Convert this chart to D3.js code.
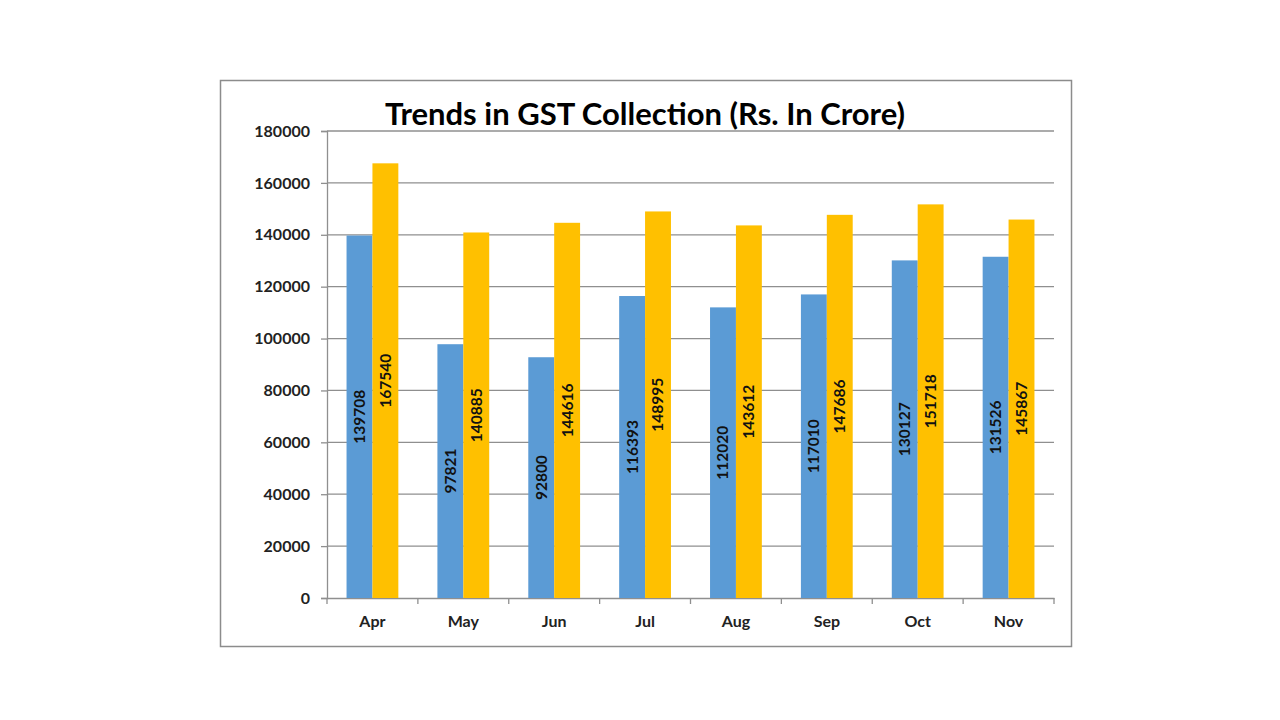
<!DOCTYPE html>
<html>
<head>
<meta charset="utf-8">
<script src="https://cdn.jsdelivr.net/npm/d3@7"></script>
<style>
  body { margin: 0; background: #fff; }
  text { font-family: Lato, "Open Sans", sans-serif; }
</style>
</head>
<body>
<div id="chart"></div>
<script>
const months = ["Apr", "May", "Jun", "Jul", "Aug", "Sep", "Oct", "Nov"];
const seriesA = [139708, 97821, 92800, 116393, 112020, 117010, 130127, 131526];
const seriesB = [167540, 140885, 144616, 148995, 143612, 147686, 151718, 145867];
const yTicks = [0, 20000, 40000, 60000, 80000, 100000, 120000, 140000, 160000, 180000];

const W = 1280, H = 720;
const plot = {left: 327, right: 1054, top: 131, bottom: 598};

const svg = d3.select("#chart").append("svg")
    .attr("width", W)
    .attr("height", H);

// frame
svg.append("rect")
    .attr("x", 220.5).attr("y", 80.5)
    .attr("width", 851).attr("height", 566)
    .attr("fill", "#fff")
    .attr("stroke", "#8c8c8c")
    .attr("stroke-width", 1.5);

const x = d3.scaleBand()
    .domain(months)
    .range([plot.left, plot.right])
    .paddingInner(0.43)
    .paddingOuter(0.215);

const y = d3.scaleLinear()
    .domain([0, 180000])
    .range([plot.bottom, plot.top]);

const step = x.step();
const bw = x.bandwidth() / 2;

// gridlines
svg.append("g")
    .selectAll("line")
    .data(yTicks.slice(1))
    .enter()
    .append("line")
    .attr("x1", plot.left).attr("x2", plot.right)
    .attr("y1", d => y(d)).attr("y2", d => y(d))
    .attr("stroke", "#8f8f8f")
    .attr("stroke-width", 1.3);

// y axis
const yAxis = svg.append("g")
    .attr("transform", `translate(${plot.left},0)`)
    .call(d3.axisLeft(y).tickValues(yTicks).tickSize(6).tickPadding(11).tickFormat(d => d));
yAxis.select(".domain").attr("stroke", "#8f8f8f").attr("stroke-width", 1.3);
yAxis.selectAll(".tick line").attr("stroke", "#8f8f8f").attr("stroke-width", 1.3);
yAxis.selectAll("text")
    .style("font-size", "16px")
    .style("font-weight", "bold")
    .attr("fill", "#222");

// x axis
const xAxis = svg.append("g")
    .attr("transform", `translate(0,${plot.bottom})`)
    .call(d3.axisBottom(x).tickSize(0).tickPadding(18));
xAxis.select(".domain").attr("stroke", "#8f8f8f").attr("stroke-width", 1.3);
xAxis.selectAll("text")
    .style("font-size", "16px")
    .style("font-weight", "bold")
    .attr("fill", "#222");

// category separators
svg.append("g")
    .selectAll("line")
    .data(d3.range(months.length + 1))
    .enter()
    .append("line")
    .attr("x1", i => plot.left + i * step).attr("x2", i => plot.left + i * step)
    .attr("y1", plot.bottom).attr("y2", plot.bottom + 6)
    .attr("stroke", "#8f8f8f")
    .attr("stroke-width", 1.3);

const data = months.map((m, i) => ({m: m, a: seriesA[i], b: seriesB[i]}));

const groups = svg.selectAll(".grp")
    .data(data)
    .enter()
    .append("g")
    .attr("class", "grp");

groups.append("rect")
    .attr("x", d => x(d.m))
    .attr("y", d => y(d.a))
    .attr("width", bw)
    .attr("height", d => plot.bottom - y(d.a))
    .attr("fill", "#5b9bd5");

groups.append("rect")
    .attr("x", d => x(d.m) + bw)
    .attr("y", d => y(d.b))
    .attr("width", bw)
    .attr("height", d => plot.bottom - y(d.b))
    .attr("fill", "#ffc000");

function addLabel(key, off) {
    groups.append("text")
        .attr("transform", d => {
            const cx = x(d.m) + off + bw / 2;
            const cy = (y(d[key]) + plot.bottom) / 2;
            return `translate(${cx},${cy}) rotate(-90)`;
        })
        .attr("text-anchor", "middle")
        .attr("dy", "0.35em")
        .style("font-size", "15.5px")
        .style("font-weight", "bold")
        .attr("fill", "#111")
        .text(d => d[key]);
}
addLabel("a", 0);
addLabel("b", bw);

svg.append("text")
    .attr("x", 645)
    .attr("y", 125)
    .attr("text-anchor", "middle")
    .style("font-size", "31px")
    .style("font-weight", "bold")
    .attr("fill", "#000")
    .text("Trends in GST Collection (Rs. In Crore)");
</script>
</body>
</html>
